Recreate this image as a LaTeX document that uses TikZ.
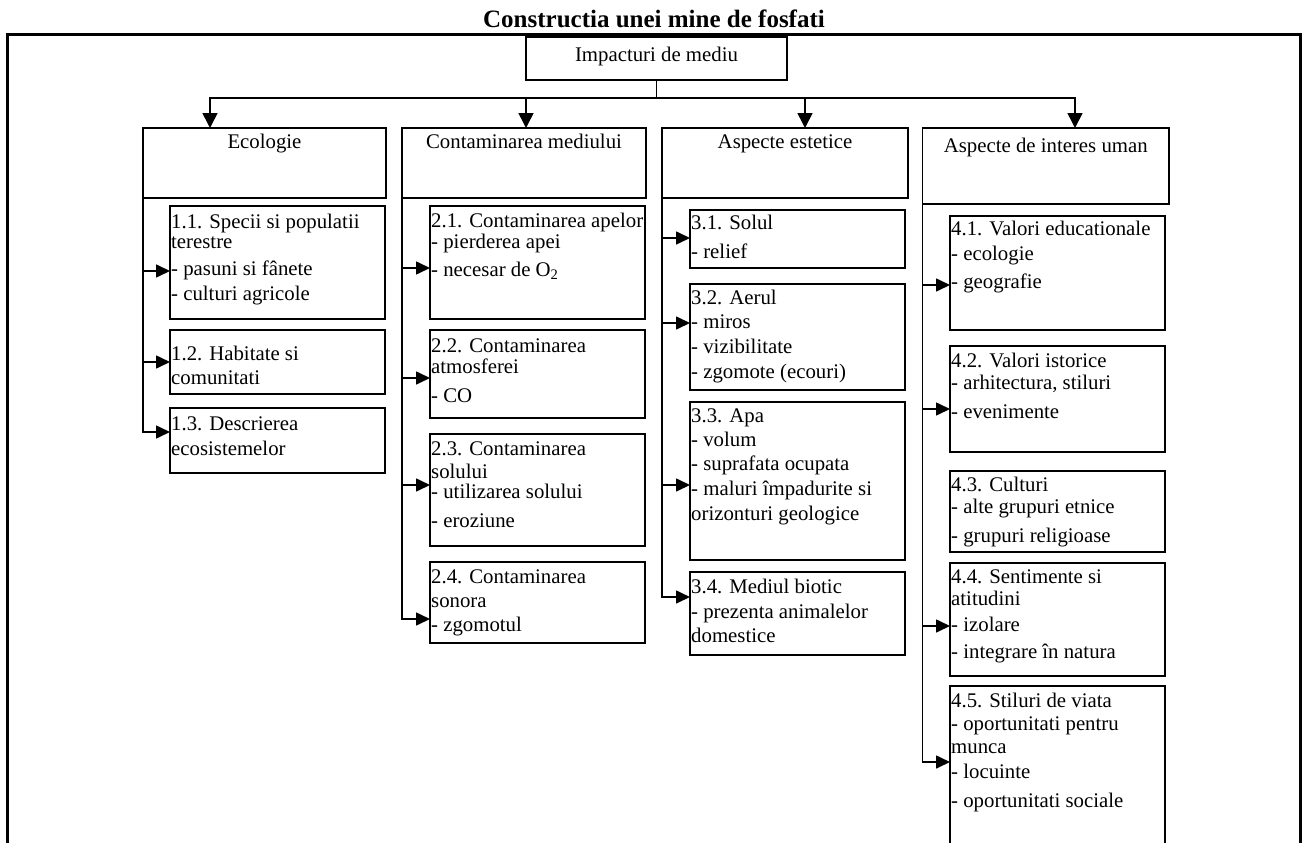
\documentclass[tikz,border=0pt]{standalone}
\usepackage{fontspec}
\setmainfont{Liberation Serif}
\usetikzlibrary{arrows.meta}
\newcommand\bx[5]{\node[box,minimum width=#4pt,minimum height=#5pt] (#1) at (#2,#3) {};}
\newcommand\tln[4]{\node[tl] (#1) at (#2,#3) {#4};}
\begin{document}
\begin{tikzpicture}[x=1pt,y=-1pt,
  box/.style={draw,line width=1.8pt,inner sep=0pt,outer sep=0pt,anchor=north west},
  conn/.style={line width=1.6pt},
  harr/.style={conn,-{Triangle[length=15pt,width=15pt]}},
  sarr/.style={conn,-{Triangle[length=14pt,width=13pt]}},
  tl/.style={inner sep=0pt,anchor=base west,font=\fontsize{20.8}{24}\selectfont},
  hd/.style={inner sep=0pt,anchor=base,font=\fontsize{20.8}{24}\selectfont}]
\useasboundingbox (0,0) rectangle (1306,843);
\clip (0,0) rectangle (1306,843);
% title and frame
\node[inner sep=0pt,anchor=base,font=\bfseries\fontsize{25}{30}\selectfont] (title) at (654,28) {Constructia unei mine de fosfati};
\draw[line width=3pt] (7.5,850) -- (7.5,35) -- (1300,35) -- (1300,850);
% top box
\bx{top}{526}{37}{261}{43}
\node[hd] (ttop) at (656.5,62) {Impacturi de mediu};
% headers
\bx{h1}{143}{128}{243}{70}
\node[hd] (th1) at (264.5,148) {Ecologie};
\bx{h2}{402}{128}{244}{70}
\node[hd] (th2) at (524,148) {Contaminarea mediului};
\bx{h3}{662}{128}{246}{70}
\node[hd] (th3) at (785,148) {Aspecte estetice};
\bx{h4}{922.5}{128}{246.5}{76}
\node[hd] (th4) at (1045.75,152) {Aspecte de interes uman};
% bus
\coordinate (bus) at (top.south |- 0,98);
\draw[conn] (top.south) -- (bus);
\draw[harr] (bus) -| ([xshift=-54.5pt]h1.north);
\draw[harr] (bus) -| ([xshift=2pt]h2.north);
\draw[harr] (bus) -| ([xshift=20pt]h3.north);
\draw[harr] (bus) -| ([xshift=29.25pt]h4.north);
% column 1
\bx{b11}{170}{206}{215}{113}
\bx{b12}{170}{330}{215}{64}
\bx{b13}{170}{408}{215}{65}
\draw[sarr] (h1.south west |- 0,271) -- (b11.west |- 0,271);
\draw[sarr] (h1.south west |- 0,362) -- (b12.west |- 0,362);
\draw[sarr] (h1.south west) |- (b13.west |- 0,432);
\tln{t11a}{171}{228}{1.1. Specii si populatii}
\tln{t11b}{171}{248}{terestre}
\tln{t11c}{171}{275}{- pasuni si fânete}
\tln{t11d}{171}{300}{- culturi agricole}
\tln{t12a}{171}{360}{1.2. Habitate si}
\tln{t12b}{171}{384}{comunitati}
\tln{t13a}{171}{430}{1.3. Descrierea}
\tln{t13b}{171}{455}{ecosistemelor}
% column 2
\bx{b21}{430}{206}{215}{113}
\bx{b22}{430}{330}{215}{88}
\bx{b23}{430}{434}{215}{112}
\bx{b24}{430}{562}{215}{81}
\draw[sarr] (h2.south west |- 0,268) -- (b21.west |- 0,268);
\draw[sarr] (h2.south west |- 0,378) -- (b22.west |- 0,378);
\draw[sarr] (h2.south west |- 0,485) -- (b23.west |- 0,485);
\draw[sarr] (h2.south west) |- (b24.west |- 0,619);
\tln{t21a}{431}{227}{2.1. Contaminarea apelor}
\tln{t21b}{431}{248}{- pierderea apei}
\tln{t21c}{431}{276}{- necesar de O\textsubscript{2}}
\tln{t22a}{431}{352}{2.2. Contaminarea}
\tln{t22b}{431}{373}{atmosferei}
\tln{t22c}{431}{402}{- CO}
\tln{t23a}{431}{455}{2.3. Contaminarea}
\tln{t23b}{431}{478}{solului}
\tln{t23c}{431}{498}{- utilizarea solului}
\tln{t23d}{431}{527}{- eroziune}
\tln{t24a}{431}{583}{2.4. Contaminarea}
\tln{t24b}{431}{607}{sonora}
\tln{t24c}{431}{631}{- zgomotul}
% column 3
\bx{b31}{690}{210}{215}{58}
\bx{b32}{690}{284}{215}{106}
\bx{b33}{690}{402}{215}{158}
\bx{b34}{690}{572}{215}{83}
\draw[sarr] (h3.south west |- 0,238) -- (b31.west |- 0,238);
\draw[sarr] (h3.south west |- 0,323) -- (b32.west |- 0,323);
\draw[sarr] (h3.south west |- 0,485) -- (b33.west |- 0,485);
\draw[sarr] (h3.south west) |- (b34.west |- 0,597);
\tln{t31a}{691}{229}{3.1. Solul}
\tln{t31b}{691}{258}{- relief}
\tln{t32a}{691}{304}{3.2. Aerul}
\tln{t32b}{691}{328}{- miros}
\tln{t32c}{691}{353}{- vizibilitate}
\tln{t32d}{691}{378}{- zgomote (ecouri)}
\tln{t33a}{691}{422}{3.3. Apa}
\tln{t33b}{691}{446}{- volum}
\tln{t33c}{691}{470}{- suprafata ocupata}
\tln{t33d}{691}{495}{- maluri împadurite si}
\tln{t33e}{691}{520}{orizonturi geologice}
\tln{t34a}{691}{593}{3.4. Mediul biotic}
\tln{t34b}{691}{618}{- prezenta animalelor}
\tln{t34c}{691}{642}{domestice}
% column 4
\bx{b41}{950}{216}{215}{114}
\bx{b42}{950}{346}{215}{106}
\bx{b43}{950}{471}{215}{81}
\bx{b44}{950}{563}{215}{113}
\bx{b45}{950}{686}{215}{180}
\draw[sarr] (h4.south west |- 0,285) -- (b41.west |- 0,285);
\draw[sarr] (h4.south west |- 0,409) -- (b42.west |- 0,409);
\draw[sarr] (h4.south west |- 0,626) -- (b44.west |- 0,626);
\draw[sarr] (h4.south west) |- (b45.west |- 0,762);
\tln{t41a}{951}{235}{4.1. Valori educationale}
\tln{t41b}{951}{260}{- ecologie}
\tln{t41c}{951}{288}{- geografie}
\tln{t42a}{951}{367}{4.2. Valori istorice}
\tln{t42b}{951}{389}{- arhitectura, stiluri}
\tln{t42c}{951}{418}{- evenimente}
\tln{t43a}{951}{491}{4.3. Culturi}
\tln{t43b}{951}{513}{- alte grupuri etnice}
\tln{t43c}{951}{542}{- grupuri religioase}
\tln{t44a}{951}{583}{4.4. Sentimente si}
\tln{t44b}{951}{605}{atitudini}
\tln{t44c}{951}{631}{- izolare}
\tln{t44d}{951}{658}{- integrare în natura}
\tln{t45a}{951}{707}{4.5. Stiluri de viata}
\tln{t45b}{951}{730}{- oportunitati pentru}
\tln{t45c}{951}{753}{munca}
\tln{t45d}{951}{778}{- locuinte}
\tln{t45e}{951}{807}{- oportunitati sociale}
\end{tikzpicture}
\end{document}
